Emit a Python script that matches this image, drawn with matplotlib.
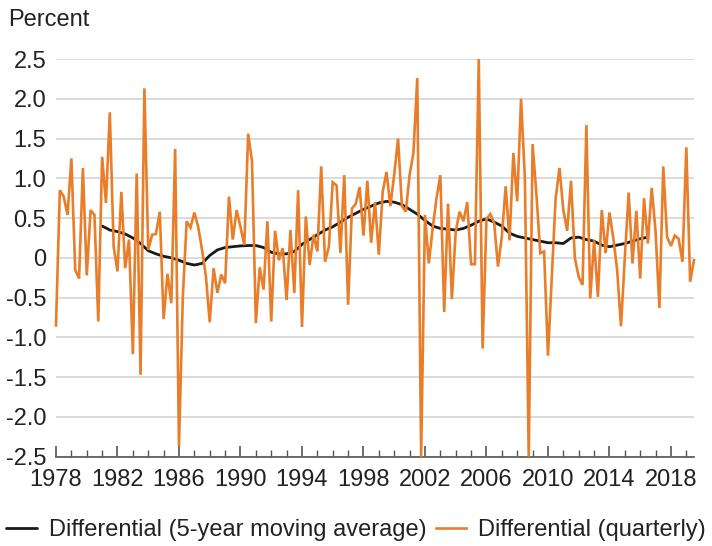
import numpy as np
import matplotlib
matplotlib.use('Agg')
import matplotlib.pyplot as plt

# quarterly differential, 1978Q1 - 2019Q3 (values clipped at +/-2.5 as in the chart)
quarterly = [
    -0.85, 0.85, 0.77, 0.54, 1.25, -0.15, -0.26, 1.13, -0.22, 0.60,
    0.54, -0.80, 1.27, 0.69, 1.83, 0.14, -0.17, 0.83, -0.13, 0.23,
    -1.21, 1.06, -1.47, 2.13, 0.10, 0.29, 0.30, 0.58, -0.77, -0.20,
    -0.57, 1.37, -2.37, -0.49, 0.46, 0.38, 0.57, 0.39, 0.10, -0.23,
    -0.81, -0.13, -0.44, -0.21, -0.32, 0.77, 0.23, 0.60, 0.39, 0.16,
    1.56, 1.21, -0.82, -0.12, -0.40, 0.46, -0.80, 0.34, -0.03, 0.12,
    -0.53, 0.35, -0.44, 0.85, -0.87, 0.52, -0.09, 0.29, 0.08, 1.15,
    -0.05, 0.14, 0.95, 0.91, 0.06, 1.04, -0.59, 0.62, 0.68, 0.89,
    0.28, 0.97, 0.19, 0.70, 0.04, 0.83, 1.08, 0.65, 1.05, 1.50,
    0.65, 0.58, 1.04, 1.32, 2.26, -2.50, 0.54, -0.07, 0.37, 0.75,
    1.04, -0.68, 0.68, -0.52, 0.33, 0.58, 0.46, 0.70, -0.08, -0.08,
    2.50, -1.14, 0.49, 0.55, 0.44, -0.11, 0.27, 0.90, 0.22, 1.32,
    0.71, 2.00, 1.00, -2.50, 1.43, 0.80, 0.06, 0.08, -1.23, -0.25,
    0.75, 1.13, 0.60, 0.34, 0.97, 0.00, -0.24, -0.34, 1.67, -0.51,
    0.22, -0.49, 0.60, 0.06, 0.57, 0.25, -0.15, -0.86, 0.00, 0.82,
    -0.07, 0.59, -0.26, 0.75, 0.18, 0.88, 0.33, -0.63, 1.15, 0.26,
    0.15, 0.28, 0.24, -0.05, 1.39, -0.30, -0.03,
]
quarters = 1978 + np.arange(len(quarterly)) / 4.0

# 5-year moving average, read every other quarter from 1981Q1
ma_dates = [
    1981.0, 1981.5, 1982.0, 1982.5, 1983.0, 1983.5, 1984.0, 1984.5, 1985.0, 1985.5,
    1986.0, 1986.5, 1987.0, 1987.5, 1988.0, 1988.5, 1989.0, 1989.5, 1990.0, 1990.5,
    1991.0, 1991.5, 1992.0, 1992.5, 1993.0, 1993.5, 1994.0, 1994.5, 1995.0, 1995.5,
    1996.0, 1996.5, 1997.0, 1997.5, 1998.0, 1998.5, 1999.0, 1999.5, 2000.0, 2000.5,
    2001.0, 2001.5, 2002.0, 2002.5, 2003.0, 2003.5, 2004.0, 2004.5, 2005.0, 2005.5,
    2006.0, 2006.5, 2007.0, 2007.5, 2008.0, 2008.5, 2009.0, 2009.5, 2010.0, 2010.5,
    2011.0, 2011.5, 2012.0, 2012.5, 2013.0, 2013.5, 2014.0, 2014.5, 2015.0, 2015.5,
    2016.0, 2016.5,
]
ma_values = [
    0.40, 0.35, 0.33, 0.30, 0.25, 0.18, 0.09, 0.05, 0.02, 0.00,
    -0.03, -0.07, -0.09, -0.07, 0.03, 0.10, 0.13, 0.14, 0.15, 0.155,
    0.155, 0.13, 0.07, 0.05, 0.05, 0.08, 0.17, 0.23, 0.29, 0.35,
    0.39, 0.45, 0.51, 0.56, 0.61, 0.65, 0.69, 0.71, 0.70, 0.67,
    0.61, 0.55, 0.47, 0.40, 0.37, 0.36, 0.35, 0.37, 0.41, 0.46,
    0.49, 0.45, 0.40, 0.31, 0.27, 0.25, 0.23, 0.21, 0.19, 0.19,
    0.18, 0.25, 0.26, 0.23, 0.21, 0.16, 0.14, 0.16, 0.18, 0.21,
    0.24, 0.26,
]

yticks = [2.5, 2.0, 1.5, 1.0, 0.5, 0, -0.5, -1.0, -1.5, -2.0, -2.5]
ytick_labels = ['2.5', '2.0', '1.5', '1.0', '0.5', '0', '-0.5', '-1.0', '-1.5', '-2.0', '-2.5']
xlabels = list(range(1978, 2019, 4))

plt.rcParams['font.family'] = ['Liberation Sans Narrow', 'Liberation Sans', 'DejaVu Sans']
FS = 17
TXT = '#222222'
ORANGE = '#E87D2A'

fig = plt.figure(figsize=(7.12, 5.46), dpi=100)
ax = fig.add_axes([56 / 712, 1 - 456.7 / 546, (694 - 56) / 712, (456.7 - 59) / 546])

ax.plot(ma_dates, ma_values, color='#1a1a1a', lw=2.0, zorder=3,
        label='Differential (5-year moving average)', solid_capstyle='round')
ax.plot(quarters, quarterly, color=ORANGE, lw=1.9, zorder=4, clip_on=False,
        label='Differential (quarterly)', solid_joinstyle='miter')

ax.set_xlim(1978, 2019.5)
ax.set_ylim(-2.5, 2.5)

ax.set_yticks(yticks)
ax.set_yticklabels(ytick_labels, fontsize=FS, color=TXT)
ax.tick_params(axis='y', length=0, pad=7)
ax.yaxis.grid(True, color='#d4d4d4', lw=1.2)
ax.set_axisbelow(True)

ax.set_xticks(xlabels)
ax.set_xticklabels([str(y) for y in xlabels], fontsize=FS, color=TXT)
ax.set_xticks(range(1978, 2020), minor=True)
ax.tick_params(axis='x', which='major', direction='in', length=8, width=1.2, color='#555555', pad=9)
ax.tick_params(axis='x', which='minor', direction='in', length=5, width=1.0, color='#555555')

for s in ['left', 'right', 'top']:
    ax.spines[s].set_visible(False)
ax.spines['bottom'].set_color('#555555')
ax.spines['bottom'].set_linewidth(1.2)

fig.text(8 / 712, 1 - 20 / 546, 'Percent', fontsize=FS, color=TXT, ha='left', va='center')

fig.legend(loc='center', bbox_to_anchor=(0.5, 1 - 530 / 546), ncol=2, frameon=False,
           fontsize=FS, handlelength=1.3, handletextpad=0.5, columnspacing=0.4,
           labelcolor=TXT)

fig.savefig('out.png', dpi=100)
